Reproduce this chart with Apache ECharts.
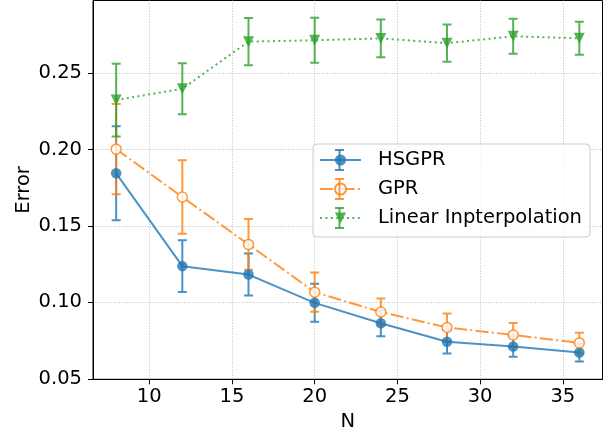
<!DOCTYPE html>
<html><head><meta charset="utf-8">
<script src="https://cdn.jsdelivr.net/npm/echarts@6/dist/echarts.min.js"></script>
<style>html,body{margin:0;padding:0;background:#fff}#c{width:616px;height:439px}</style>
</head><body><div id="c"></div>
<script>
// ---- data ----
const N = [8, 12, 16, 20, 24, 28, 32, 36];
const hsgpr    = [0.1844, 0.1237, 0.1182, 0.0997, 0.0863, 0.0743, 0.0711, 0.0672];
const hsgprErr = [0.0307, 0.0169, 0.0137, 0.0124, 0.0085, 0.0078, 0.0067, 0.0059];
const gpr      = [0.2002, 0.1689, 0.1379, 0.1067, 0.0937, 0.0836, 0.0787, 0.0735];
const gprErr   = [0.0295, 0.0241, 0.0166, 0.0128, 0.0089, 0.0091, 0.0078, 0.0067];
const lin      = [0.2323, 0.2397, 0.2705, 0.2714, 0.2726, 0.2695, 0.2740, 0.2727];
const linErr   = [0.0238, 0.0167, 0.0155, 0.0147, 0.0123, 0.0122, 0.0114, 0.0108];
const xTicks = [10, 15, 20, 25, 30, 35];
const yTicks = [0.05, 0.10, 0.15, 0.20, 0.25];
const seriesNames = ['HSGPR', 'GPR', 'Linear Inpterpolation'];

const FONT = 'DejaVu Sans';
const FS = 19.5;
const BLUE = '#1f77b4', ORANGE = '#ff7f0e', GREEN = '#2ca02c';
const ALPHA = 0.8;

const chart = echarts.init(document.getElementById('c'), null, {renderer: 'canvas'});

function errSeries(name, y, e, color) {
  return {
    type: 'custom', name: name + ' err',
    data: N.map((x, i) => [x, y[i], e[i]]),
    renderItem(params, api) {
      const x = api.value(0), v = api.value(1), er = api.value(2);
      const t = api.coord([x, v + er]), b = api.coord([x, v - er]);
      const c = 4.5;
      return {
        type: 'path',
        shape: {pathData: `M${t[0]} ${t[1]}L${b[0]} ${b[1]}M${t[0]-c} ${t[1]}L${t[0]+c} ${t[1]}M${b[0]-c} ${b[1]}L${b[0]+c} ${b[1]}`},
        style: {stroke: color, lineWidth: 2, fill: null, opacity: ALPHA}
      };
    },
    silent: true, clip: false, animation: false
  };
}

// legend error-bar glyphs (decoration of the legend handles)
const LEG_LEFT = 313, LEG_TOP = 144, LEG_PAD = [6, 8, 9, 6], LEG_W = 41, ROW = 29, ROW_H = 20;
function legendBar(i, color) {
  const cx = LEG_LEFT + LEG_PAD[3] + LEG_W / 2;
  const cy = LEG_TOP + LEG_PAD[0] + ROW_H / 2 + i * ROW;
  const h = 10, c = 4.5;
  const st = {stroke: color, lineWidth: 2, opacity: ALPHA};
  return [
    {type: 'line', z: 100, silent: true, shape: {x1: cx, y1: cy - h, x2: cx, y2: cy + h}, style: st},
    {type: 'line', z: 100, silent: true, shape: {x1: cx - c, y1: cy - h, x2: cx + c, y2: cy - h}, style: st},
    {type: 'line', z: 100, silent: true, shape: {x1: cx - c, y1: cy + h, x2: cx + c, y2: cy + h}, style: st}
  ];
}

const axisFont = {fontFamily: FONT, fontSize: FS, color: '#000'};
const gridLine = {show: true, lineStyle: {color: '#b0b0b0', width: 0.8, type: [1, 1.6]}};

const option = {
  backgroundColor: '#fff',
  animation: false,
  grid: {left: 93, right: 13.5, top: 0.5, bottom: 59.7, show: true, borderColor: '#000', borderWidth: 1, backgroundColor: 'transparent'},
  xAxis: {
    type: 'value', min: 6.6, max: 37.4,
    axisLine: {show: true, onZero: false, lineStyle: {color: '#000', width: 1}},
    axisTick: {show: true, length: 5, lineStyle: {color: '#000', width: 1}, customValues: xTicks},
    axisLabel: Object.assign({customValues: xTicks, margin: 8}, axisFont),
    splitLine: gridLine,
    name: 'N', nameLocation: 'middle', nameGap: 32, nameTextStyle: axisFont
  },
  yAxis: {
    type: 'value', min: 0.0497, max: 0.2974,
    axisLine: {show: true, onZero: false, lineStyle: {color: '#000', width: 1}},
    axisTick: {show: true, length: 5, lineStyle: {color: '#000', width: 1}, customValues: yTicks},
    axisLabel: Object.assign({customValues: yTicks, margin: 11, formatter: v => v.toFixed(2)}, axisFont),
    splitLine: gridLine,
    name: 'Error', nameLocation: 'middle', nameGap: 59, nameMoveOverlap: false, nameTextStyle: axisFont
  },
  legend: {
    data: seriesNames,
    orient: 'vertical', left: LEG_LEFT, top: LEG_TOP,
    padding: LEG_PAD,
    itemWidth: LEG_W, itemHeight: 14, itemGap: ROW - ROW_H,
    backgroundColor: 'rgba(255,255,255,0.8)', borderColor: '#cccccc', borderWidth: 1, borderRadius: 4,
    textStyle: {fontFamily: FONT, fontSize: FS, color: '#000', lineHeight: ROW_H, padding: [0, 0, 0, 12]},
    selectedMode: false
  },
  graphic: [].concat(legendBar(0, BLUE), legendBar(1, ORANGE), legendBar(2, GREEN)),
  series: [
    errSeries('HSGPR', hsgpr, hsgprErr, BLUE),
    {type: 'line', name: 'HSGPR', data: N.map((x, i) => [x, hsgpr[i]]),
     symbol: 'circle', symbolSize: 10.5,
     lineStyle: {color: BLUE, width: 2, opacity: ALPHA},
     itemStyle: {color: BLUE, opacity: ALPHA}, emphasis: {disabled: true}},
    errSeries('GPR', gpr, gprErr, ORANGE),
    {type: 'line', name: 'GPR', data: N.map((x, i) => [x, gpr[i]]),
     symbol: 'circle', symbolSize: 10,
     lineStyle: {color: ORANGE, width: 2, opacity: ALPHA, type: [13, 3.3, 2, 3.3]},
     itemStyle: {color: '#ffffff', borderColor: ORANGE, borderWidth: 1.5, opacity: ALPHA}, emphasis: {disabled: true}},
    errSeries('Linear Inpterpolation', lin, linErr, GREEN),
    {type: 'line', name: 'Linear Inpterpolation', data: N.map((x, i) => [x, lin[i]]),
     symbol: 'triangle', symbolRotate: 180, symbolSize: 11,
     lineStyle: {color: GREEN, width: 2, opacity: ALPHA, type: [2, 3.4]},
     itemStyle: {color: GREEN, opacity: ALPHA}, emphasis: {disabled: true}}
  ]
};
chart.setOption(option);
</script></body></html>
